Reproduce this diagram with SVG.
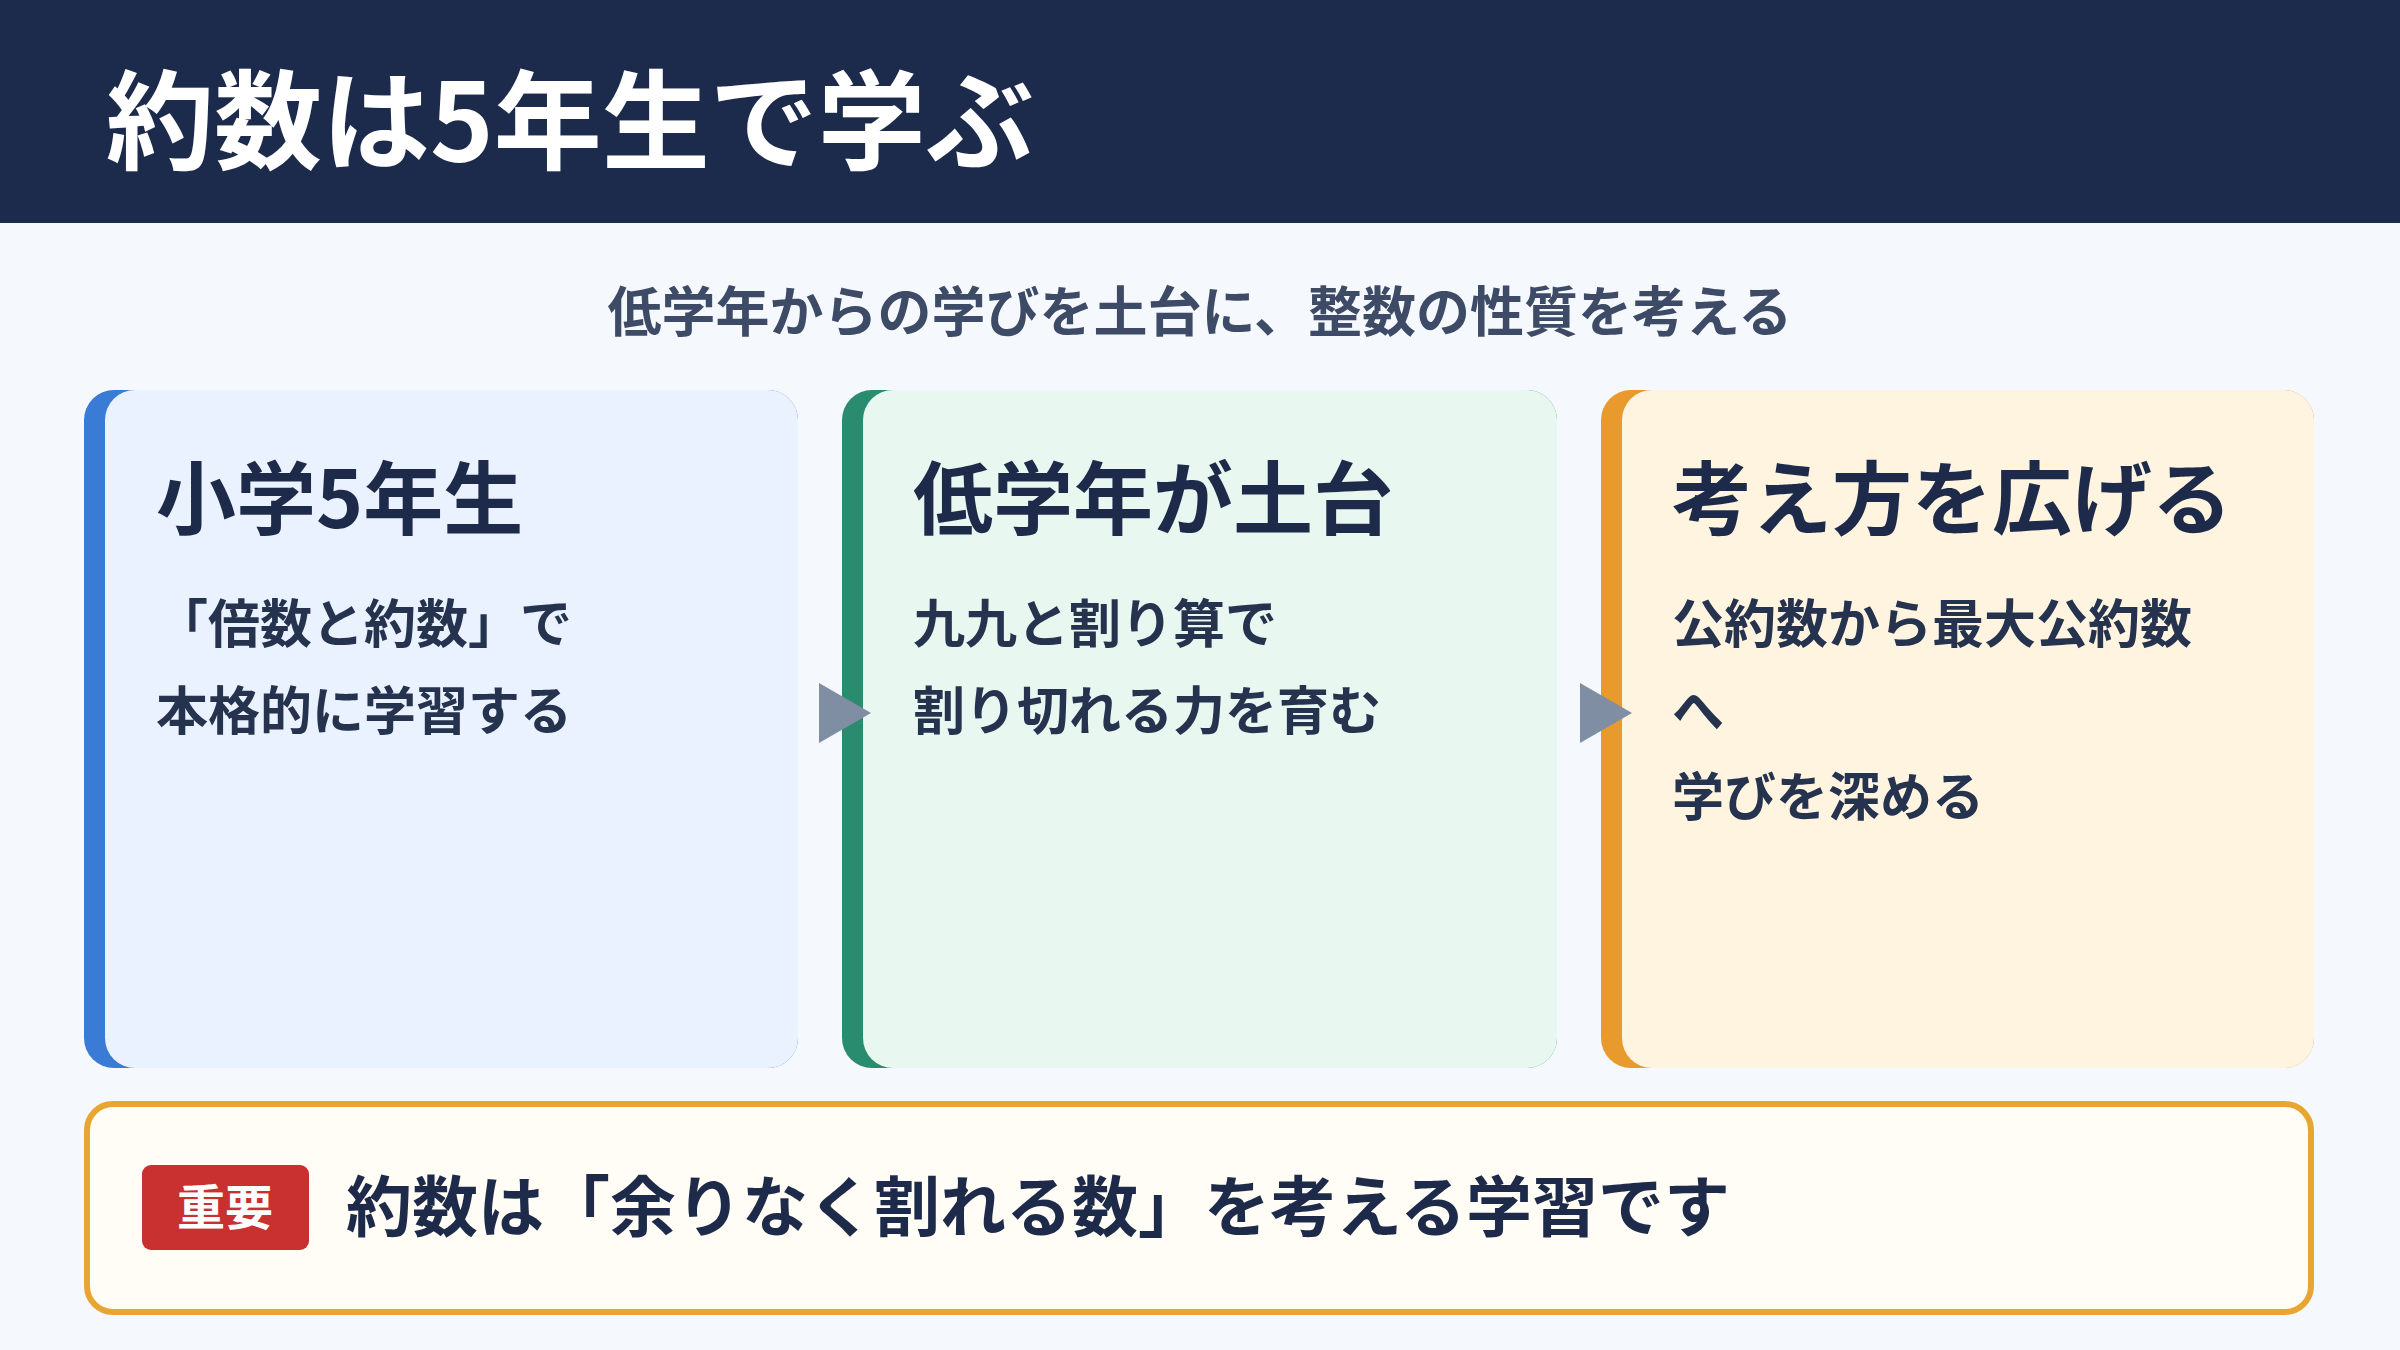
<svg xmlns="http://www.w3.org/2000/svg" width="2400" height="1350" viewBox="0 0 2400 1350">
<style>
text{font-family:"Noto Sans CJK JP","Noto Sans",sans-serif;font-weight:700;fill:#1e2a4a}
.t{font-size:80px}
.b{font-size:52px;font-weight:600;fill:#26334f}
.arr{fill:#7f8ea3}
</style>
<rect width="2400" height="1350" fill="#f5f8fc"/>
<g id="header"><rect width="2400" height="223" fill="#1c2a4c"/>
<text x="106" y="161" style="font-size:108px;fill:#fff">約数は5年生で学ぶ</text></g>
<g id="subtitle"><text x="1200" y="332" text-anchor="middle" style="font-size:54px;fill:#3d4b66">低学年からの学びを土台に、整数の性質を考える</text></g>
<g id="card1"><rect x="84" y="390" width="714" height="678" rx="30" fill="#3a7bd5"/><rect x="105" y="390" width="693" height="678" rx="30" fill="#eaf2ff"/>
<text class="t" x="156" y="528">小学5年生</text>
<text class="b" x="156" y="643">「倍数と約数」で</text><text class="b" x="156" y="730">本格的に学習する</text></g>
<g id="card2"><rect x="842" y="390" width="715" height="678" rx="30" fill="#2a8c6e"/><rect x="863" y="390" width="694" height="678" rx="30" fill="#e8f7f0"/>
<text class="t" x="913" y="528">低学年が土台</text>
<text class="b" x="913" y="643">九九と割り算で</text><text class="b" x="913" y="730">割り切れる力を育む</text></g>
<g id="card3"><rect x="1601" y="390" width="713" height="678" rx="30" fill="#e89a2c"/><rect x="1622" y="390" width="692" height="678" rx="30" fill="#fff4e0"/>
<text class="t" x="1672" y="528">考え方を広げる</text>
<text class="b" x="1672" y="643">公約数から最大公約数</text><text class="b" x="1672" y="730">へ</text><text class="b" x="1672" y="816">学びを深める</text></g>
<g id="connectors"><polygon class="arr" points="819,683 871,713 819,743"/><polygon class="arr" points="1580,683 1632,713 1580,743"/></g>
<g id="note"><rect x="87" y="1104" width="2224" height="208" rx="26" fill="#fffdf5" stroke="#e9a531" stroke-width="6"/>
<rect x="142" y="1165" width="167" height="85" rx="9" fill="#c8312f"/>
<text x="225" y="1225" text-anchor="middle" style="font-size:48px;fill:#fff">重要</text>
<text x="346" y="1231" style="font-size:66px">約数は「余りなく割れる数」を考える学習です</text></g>
</svg>
